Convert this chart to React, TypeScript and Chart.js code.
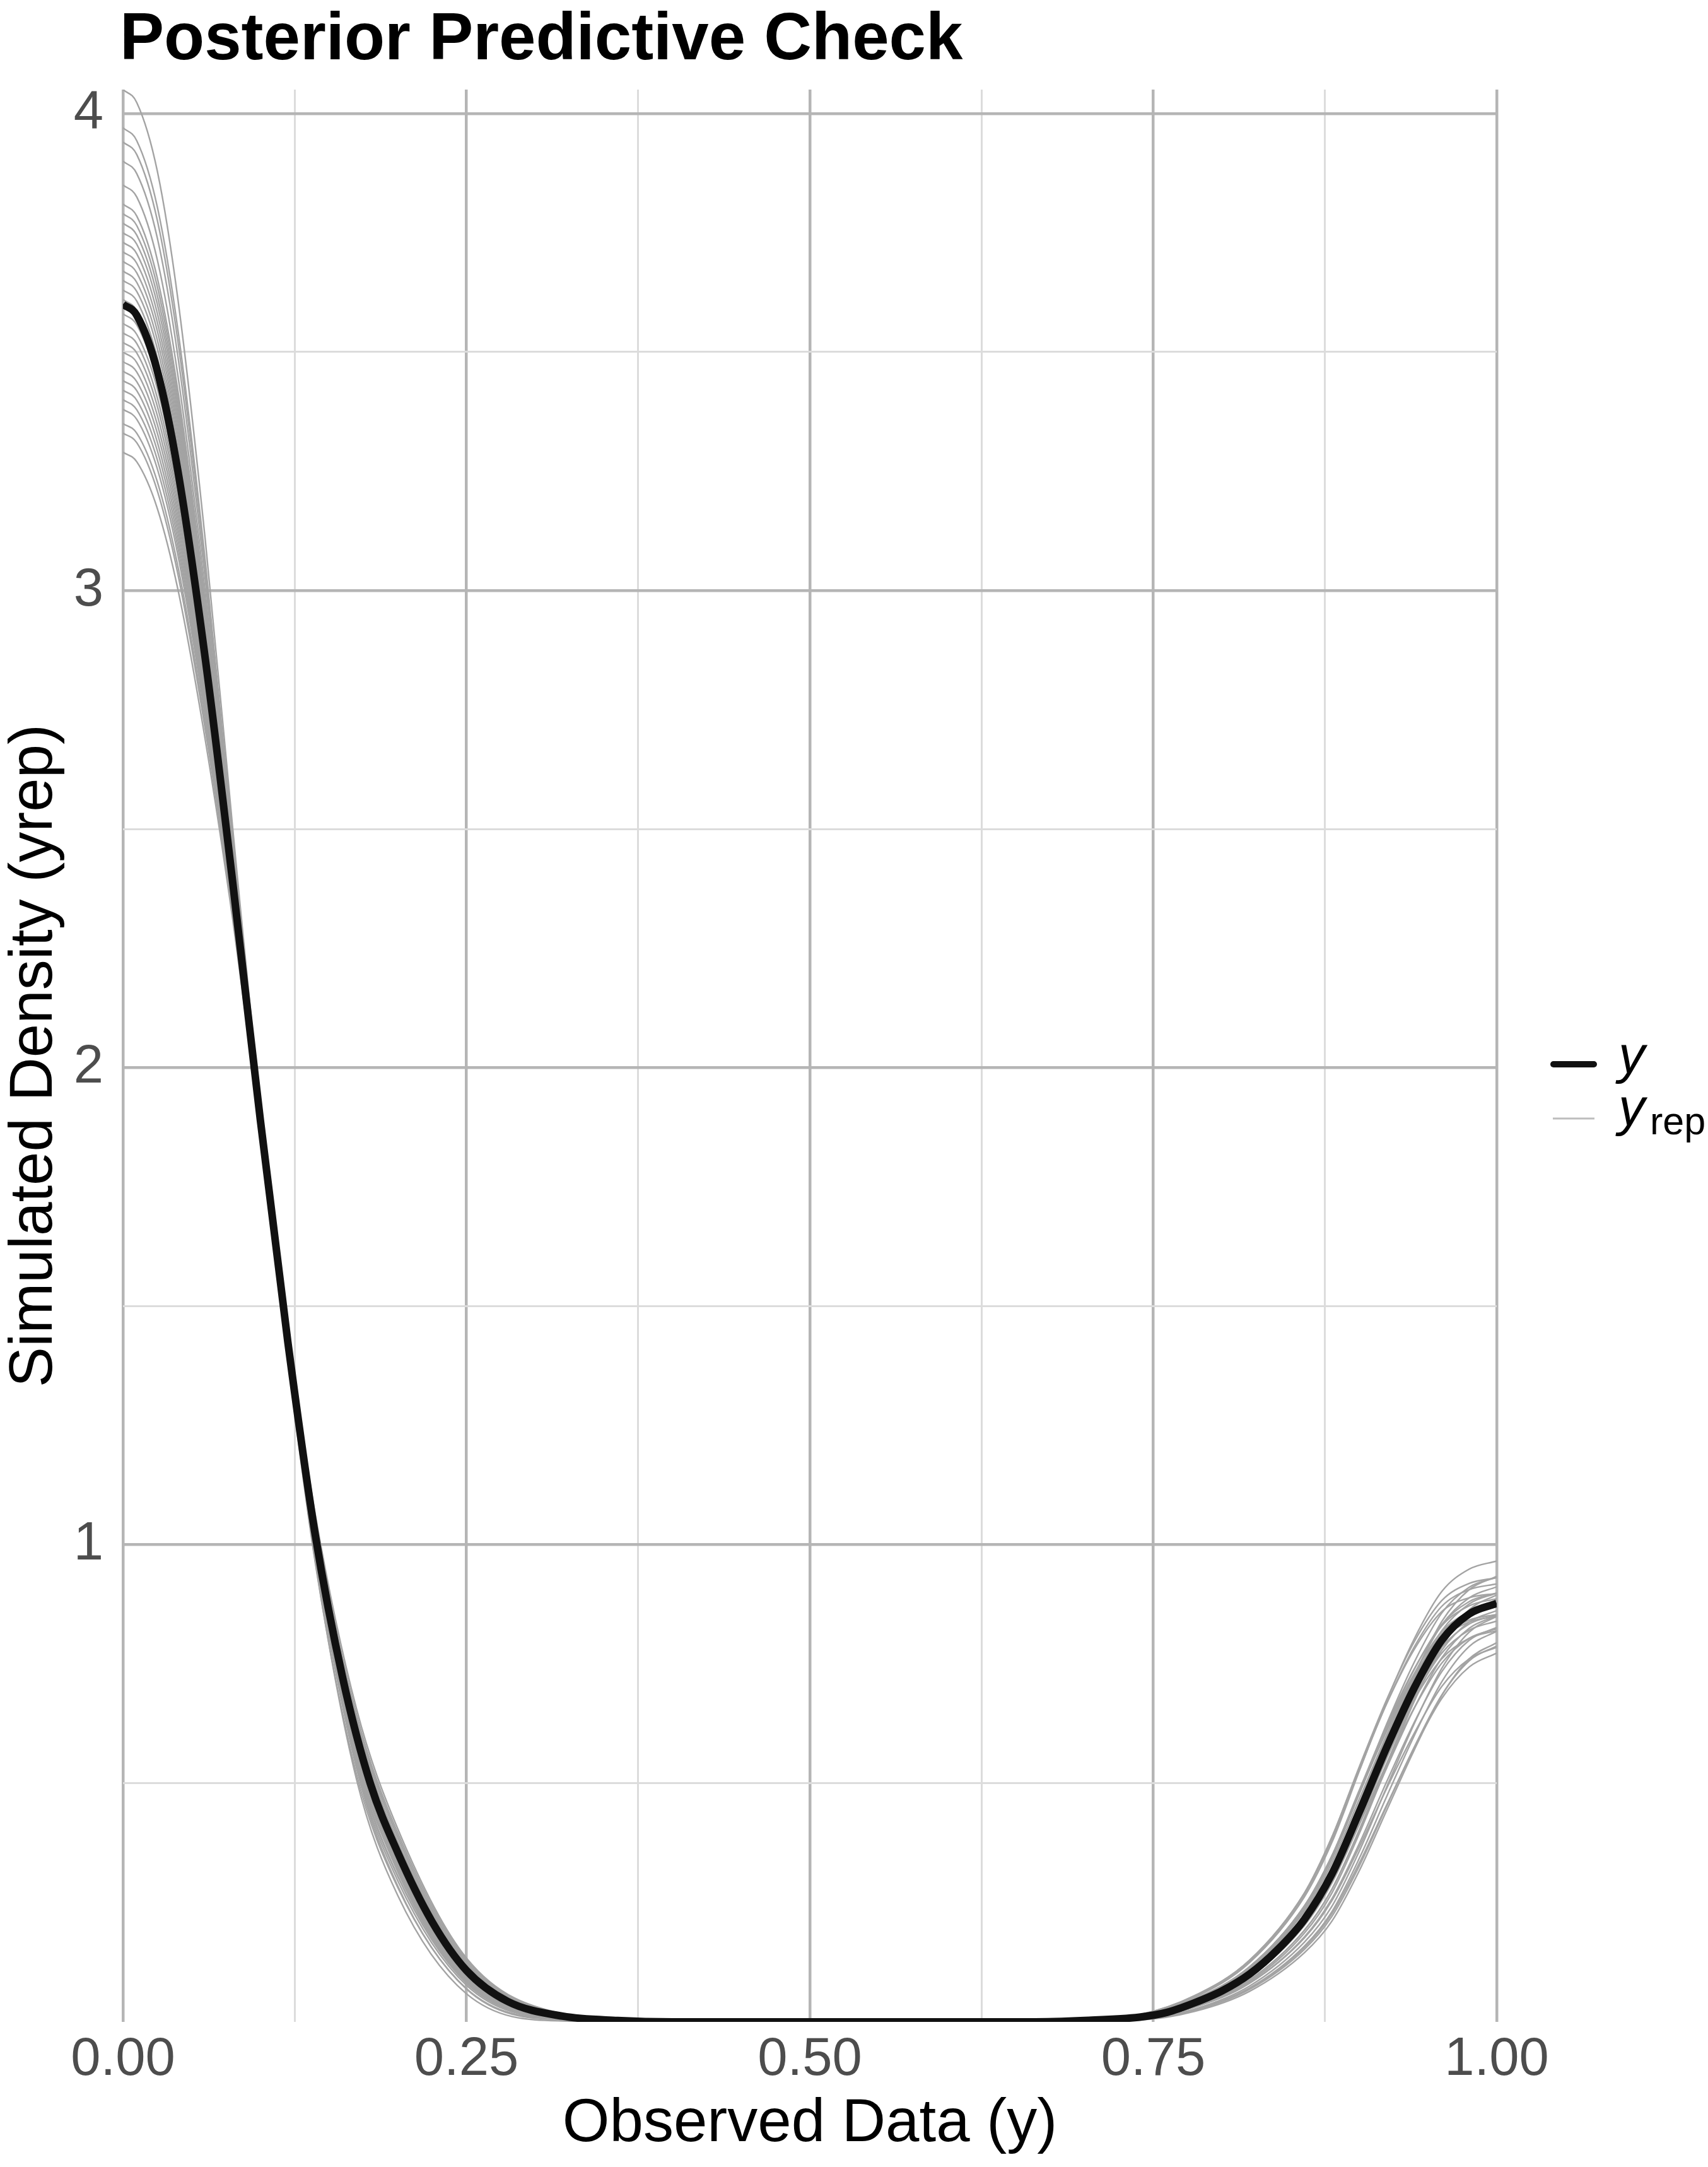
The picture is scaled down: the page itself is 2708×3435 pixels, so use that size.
import React, { useEffect, useRef } from 'react';
import { Chart, registerables } from 'chart.js';

Chart.register(...registerables);

// ---------- text ----------
const chartTitle = 'Posterior Predictive Check';
const xAxisTitle = 'Observed Data (y)';
const yAxisTitle = 'Simulated Density (yrep)';
const legendObsLabel = 'y';
const legendRepMain = 'y';
const legendRepSub = 'rep';

// ---------- ticks ----------
const xTickValues = [0, 0.25, 0.5, 0.75, 1];
const xTickLabels = ['0.00', '0.25', '0.50', '0.75', '1.00'];
const yTickValues = [1, 2, 3, 4];
const yTickLabels = ['1', '2', '3', '4'];
const xRange = [0, 1];
const yRange = [0, 4.05];

// ---------- observed density (y) ----------
const obsX = [0, 0.01, 0.025, 0.04, 0.06, 0.08, 0.10, 0.12, 0.14, 0.16, 0.18, 0.20, 0.225, 0.25, 0.28, 0.32, 0.36, 0.40,
  0.66, 0.70, 0.74, 0.76, 0.78, 0.80, 0.82, 0.84, 0.86, 0.88, 0.90, 0.92, 0.94, 0.96, 0.98, 1.00];
const obsY = [3.60, 3.577, 3.46, 3.25, 2.855, 2.385, 1.89, 1.425, 1.02, 0.72, 0.50, 0.355, 0.21, 0.108, 0.043, 0.012, 0.003, 0,
  0, 0.003, 0.01, 0.02, 0.04, 0.065, 0.10, 0.15, 0.215, 0.31, 0.44, 0.576, 0.70, 0.80, 0.855, 0.877];

// ---------- replicated densities (yrep) ----------
const yrepLeftX = [0, 0.01, 0.025, 0.04, 0.06, 0.08, 0.10, 0.12, 0.14, 0.17, 0.20, 0.25, 0.32, 0.40];
const yrepRightX = [0.66, 0.70, 0.74, 0.78, 0.82, 0.86, 0.88, 0.90, 0.92, 0.94, 0.96, 0.98, 1.00];

const yrepLeft: number[][] = [
  [4.05, 4.023, 3.879, 3.61, 3.103, 2.498, 1.911, 1.397, 0.978, 0.555, 0.319, 0.091, 0.009, 0],
  [3.97, 3.943, 3.804, 3.546, 3.059, 2.478, 1.905, 1.392, 0.962, 0.519, 0.282, 0.070, 0.005, 0],
  [3.94, 3.914, 3.776, 3.522, 3.042, 2.470, 1.908, 1.410, 1.006, 0.597, 0.359, 0.112, 0.013, 0],
  [3.90, 3.874, 3.739, 3.49, 3.02, 2.46, 1.903, 1.400, 0.978, 0.544, 0.305, 0.083, 0.007, 0],
  [3.85, 3.825, 3.693, 3.45, 2.993, 2.448, 1.902, 1.409, 0.996, 0.574, 0.334, 0.098, 0.010, 0],
  [3.81, 3.785, 3.655, 3.418, 2.971, 2.438, 1.902, 1.421, 1.022, 0.619, 0.378, 0.122, 0.015, 0],
  [3.79, 3.765, 3.637, 3.402, 2.960, 2.433, 1.897, 1.404, 0.979, 0.537, 0.296, 0.077, 0.006, 0],
  [3.77, 3.745, 3.618, 3.386, 2.949, 2.428, 1.898, 1.415, 1.007, 0.588, 0.346, 0.104, 0.011, 0],
  [3.75, 3.726, 3.600, 3.37, 2.938, 2.423, 1.896, 1.410, 0.993, 0.561, 0.319, 0.089, 0.008, 0],
  [3.73, 3.706, 3.581, 3.354, 2.927, 2.418, 1.897, 1.422, 1.021, 0.611, 0.369, 0.116, 0.014, 0],
  [3.71, 3.686, 3.562, 3.338, 2.916, 2.413, 1.891, 1.400, 0.965, 0.508, 0.265, 0.059, 0.002, 0],
  [3.69, 3.666, 3.544, 3.322, 2.905, 2.408, 1.893, 1.416, 1.003, 0.574, 0.331, 0.096, 0.010, 0],
  [3.67, 3.646, 3.525, 3.306, 2.894, 2.403, 1.894, 1.423, 1.019, 0.603, 0.359, 0.111, 0.013, 0],
  [3.65, 3.627, 3.507, 3.29, 2.883, 2.398, 1.890, 1.414, 0.996, 0.560, 0.316, 0.087, 0.008, 0],
  [3.63, 3.607, 3.488, 3.274, 2.872, 2.393, 1.893, 1.431, 1.036, 0.632, 0.387, 0.126, 0.016, 0],
  [3.61, 3.587, 3.469, 3.258, 2.861, 2.388, 1.890, 1.422, 1.013, 0.589, 0.344, 0.102, 0.011, 0],
  [3.58, 3.557, 3.441, 3.234, 2.844, 2.380, 1.886, 1.415, 0.994, 0.551, 0.306, 0.081, 0.007, 0],
  [3.56, 3.537, 3.423, 3.218, 2.833, 2.375, 1.889, 1.432, 1.034, 0.624, 0.378, 0.120, 0.014, 0],
  [3.54, 3.518, 3.404, 3.202, 2.822, 2.370, 1.886, 1.422, 1.009, 0.575, 0.329, 0.093, 0.009, 0],
  [3.52, 3.498, 3.386, 3.186, 2.811, 2.365, 1.882, 1.413, 0.986, 0.532, 0.285, 0.069, 0.004, 0],
  [3.50, 3.478, 3.367, 3.17, 2.80, 2.36, 1.885, 1.43, 1.026, 0.604, 0.357, 0.109, 0.012, 0],
  [3.48, 3.458, 3.348, 3.154, 2.789, 2.355, 1.883, 1.427, 1.018, 0.588, 0.341, 0.100, 0.010, 0],
  [3.46, 3.438, 3.330, 3.138, 2.778, 2.350, 1.885, 1.440, 1.049, 0.644, 0.396, 0.130, 0.016, 0],
  [3.44, 3.419, 3.311, 3.122, 2.767, 2.345, 1.880, 1.426, 1.012, 0.573, 0.325, 0.091, 0.008, 0],
  [3.42, 3.399, 3.293, 3.106, 2.756, 2.340, 1.881, 1.433, 1.028, 0.602, 0.353, 0.106, 0.011, 0],
  [3.40, 3.379, 3.274, 3.09, 2.745, 2.335, 1.881, 1.439, 1.041, 0.625, 0.376, 0.118, 0.014, 0],
  [3.38, 3.359, 3.255, 3.074, 2.734, 2.330, 1.877, 1.426, 1.009, 0.565, 0.315, 0.085, 0.007, 0],
  [3.35, 3.330, 3.228, 3.05, 2.718, 2.323, 1.879, 1.444, 1.05, 0.638, 0.388, 0.124, 0.015, 0],
  [3.33, 3.310, 3.209, 3.034, 2.707, 2.318, 1.876, 1.436, 1.030, 0.600, 0.349, 0.103, 0.011, 0],
  [3.29, 3.270, 3.172, 3.002, 2.685, 2.308, 1.877, 1.450, 1.063, 0.656, 0.405, 0.134, 0.017, 0],
];

const yrepRight: number[][] = [
  [0, 0.004, 0.013, 0.051, 0.124, 0.262, 0.376, 0.526, 0.674, 0.803, 0.902, 0.949, 0.966],
  [0, 0.003, 0.009, 0.038, 0.098, 0.212, 0.307, 0.442, 0.588, 0.724, 0.839, 0.906, 0.934],
  [0, 0.004, 0.015, 0.054, 0.129, 0.270, 0.387, 0.535, 0.676, 0.797, 0.883, 0.919, 0.931],
  [0, 0.003, 0.010, 0.042, 0.104, 0.224, 0.322, 0.458, 0.599, 0.728, 0.832, 0.889, 0.912],
  [0, 0.002, 0.007, 0.032, 0.084, 0.186, 0.270, 0.395, 0.536, 0.672, 0.790, 0.864, 0.895],
  [0, 0.003, 0.012, 0.046, 0.111, 0.237, 0.341, 0.478, 0.616, 0.739, 0.833, 0.881, 0.899],
  [0, 0.004, 0.015, 0.055, 0.129, 0.270, 0.387, 0.532, 0.668, 0.781, 0.860, 0.889, 0.898],
  [0, 0.003, 0.009, 0.038, 0.095, 0.206, 0.298, 0.425, 0.562, 0.688, 0.791, 0.851, 0.875],
  [0, 0.004, 0.012, 0.047, 0.113, 0.239, 0.344, 0.479, 0.613, 0.730, 0.818, 0.859, 0.874],
  [0, 0.002, 0.006, 0.027, 0.075, 0.167, 0.242, 0.358, 0.493, 0.625, 0.741, 0.817, 0.850],
  [0, 0.003, 0.011, 0.041, 0.102, 0.217, 0.313, 0.441, 0.573, 0.691, 0.785, 0.834, 0.853],
  [0, 0.004, 0.013, 0.048, 0.115, 0.242, 0.347, 0.481, 0.610, 0.721, 0.802, 0.838, 0.850],
  [0, 0.002, 0.007, 0.031, 0.081, 0.178, 0.258, 0.374, 0.504, 0.628, 0.734, 0.800, 0.827],
  [0, 0.003, 0.009, 0.038, 0.094, 0.202, 0.291, 0.414, 0.541, 0.658, 0.752, 0.804, 0.824],
  [0, 0.003, 0.011, 0.042, 0.102, 0.218, 0.313, 0.438, 0.564, 0.676, 0.761, 0.804, 0.820],
  [0, 0.002, 0.004, 0.022, 0.064, 0.145, 0.211, 0.317, 0.444, 0.570, 0.684, 0.761, 0.795],
  [0, 0.002, 0.007, 0.031, 0.081, 0.176, 0.254, 0.367, 0.490, 0.605, 0.703, 0.761, 0.785],
  [0, 0.002, 0.006, 0.026, 0.070, 0.156, 0.227, 0.333, 0.455, 0.574, 0.678, 0.744, 0.773],
  [0, 0.003, 0.011, 0.045, 0.111, 0.237, 0.341, 0.481, 0.625, 0.754, 0.857, 0.911, 0.932],
  [0, 0.004, 0.014, 0.053, 0.127, 0.267, 0.382, 0.528, 0.668, 0.786, 0.871, 0.906, 0.918],
  [0, 0.002, 0.008, 0.033, 0.087, 0.192, 0.278, 0.403, 0.542, 0.674, 0.786, 0.855, 0.884],
  [0, 0.003, 0.012, 0.045, 0.109, 0.232, 0.333, 0.467, 0.602, 0.721, 0.813, 0.859, 0.877],
  [0, 0.003, 0.009, 0.037, 0.094, 0.203, 0.293, 0.419, 0.553, 0.677, 0.779, 0.838, 0.862],
  [0, 0.004, 0.013, 0.048, 0.115, 0.243, 0.348, 0.483, 0.613, 0.725, 0.806, 0.842, 0.854],
  [0, 0.002, 0.005, 0.026, 0.071, 0.159, 0.231, 0.343, 0.473, 0.600, 0.713, 0.787, 0.819],
  [0, 0.003, 0.010, 0.041, 0.103, 0.220, 0.318, 0.451, 0.590, 0.718, 0.820, 0.876, 0.899],
  [0, 0.004, 0.012, 0.047, 0.115, 0.243, 0.348, 0.486, 0.622, 0.740, 0.830, 0.872, 0.887],
  [0, 0.003, 0.008, 0.034, 0.088, 0.192, 0.278, 0.400, 0.533, 0.658, 0.763, 0.825, 0.851],
  [0, 0.003, 0.010, 0.041, 0.100, 0.214, 0.308, 0.435, 0.564, 0.681, 0.773, 0.821, 0.840],
  [0, 0.002, 0.005, 0.024, 0.068, 0.152, 0.221, 0.327, 0.453, 0.576, 0.685, 0.757, 0.788],
];

// ---------- styles ----------
const W = 2708;
const H = 3435;
const FONT = '"Liberation Sans", Arial, Helvetica, sans-serif';
const obsColor = '#111111';
const yrepColor = '#a3a3a3';
const majorGrid = '#b5b5b5';
const minorGrid = '#dcdcdc';
const tickColor = '#4d4d4d';

const isIn = (arr: number[], v: number) => arr.some((t) => Math.abs(t - v) < 1e-9);

const decorPlugin = {
  id: 'ppcDecor',
  afterDraw(chart: any) {
    const { ctx, chartArea } = chart;
    ctx.save();
    // Title
    ctx.fillStyle = '#000';
    ctx.textAlign = 'left';
    ctx.textBaseline = 'alphabetic';
    ctx.font = `bold 105px ${FONT}`;
    ctx.fillText(chartTitle, chartArea.left - 5, 94);

    // Legend
    const lx0 = chartArea.right + 90;
    const lx1 = chartArea.right + 154;
    const row1 = 1687;
    const row2 = 1773;
    ctx.lineCap = 'round';
    ctx.strokeStyle = obsColor;
    ctx.lineWidth = 10;
    ctx.beginPath();
    ctx.moveTo(lx0, row1);
    ctx.lineTo(lx1, row1);
    ctx.stroke();
    ctx.lineCap = 'butt';
    ctx.strokeStyle = '#bdbdbd';
    ctx.lineWidth = 3;
    ctx.beginPath();
    ctx.moveTo(lx0 - 1, row2);
    ctx.lineTo(lx1 + 1, row2);
    ctx.stroke();

    ctx.fillStyle = '#000';
    ctx.font = `italic 84px ${FONT}`;
    const tx = chartArea.right + 193;
    ctx.fillText(legendObsLabel, tx, row1 + 14);
    ctx.fillText(legendRepMain, tx, row2 + 11);
    const wy = ctx.measureText(legendRepMain).width;
    ctx.font = `61px ${FONT}`;
    ctx.fillText(legendRepSub, tx + wy + 8, row2 + 25);
    ctx.restore();
  },
};

export default function App() {
  const ref = useRef<HTMLCanvasElement>(null);

  useEffect(() => {
    const canvas = ref.current;
    if (!canvas) return;

    const yrepSets = yrepLeft.map((left, i) => ({
      label: 'yrep',
      data: [
        ...yrepLeftX.map((x, j) => ({ x, y: left[j] })),
        ...yrepRightX.map((x, j) => ({ x, y: yrepRight[i][j] })),
      ],
      borderColor: yrepColor,
      borderWidth: 2.4,
      pointRadius: 0,
      cubicInterpolationMode: 'monotone' as const,
      clip: 0,
      order: 1,
    }));

    const obsSet = {
      label: 'y',
      data: obsX.map((x, j) => ({ x, y: obsY[j] })),
      borderColor: obsColor,
      borderWidth: 12,
      pointRadius: 0,
      cubicInterpolationMode: 'monotone' as const,
      clip: 0,
      order: 0,
    };

    const chart = new Chart(canvas, {
      type: 'line',
      data: { datasets: [obsSet, ...yrepSets] as any },
      options: {
        animation: false,
        responsive: false,
        devicePixelRatio: 1,
        events: [],
        layout: { padding: { left: 0, right: 335, top: 142, bottom: 0 } },
        plugins: {
          legend: { display: false },
          tooltip: { enabled: false },
          title: { display: false },
        },
        elements: { point: { radius: 0 }, line: { borderJoinStyle: 'round' } },
        scales: {
          x: {
            type: 'linear',
            min: xRange[0],
            max: xRange[1],
            border: { display: false },
            grid: {
              drawTicks: false,
              color: (c: any) => (isIn(xTickValues, c.tick?.value) ? majorGrid : minorGrid),
              lineWidth: (c: any) => (isIn(xTickValues, c.tick?.value) ? 4.5 : 3),
            },
            ticks: {
              stepSize: 0.125,
              autoSkip: false,
              maxRotation: 0,
              padding: 10,
              color: tickColor,
              font: { family: FONT, size: 85, lineHeight: 1.2 },
              callback: (v: any) => {
                const i = xTickValues.findIndex((t) => Math.abs(t - Number(v)) < 1e-9);
                return i >= 0 ? xTickLabels[i] : '';
              },
            },
            title: {
              display: true,
              text: xAxisTitle,
              color: '#000',
              font: { family: FONT, size: 96, lineHeight: 1.15 },
              padding: { top: 0, bottom: 12 },
            },
            afterFit: (s: any) => {
              s.height = H - 3205;
            },
          },
          y: {
            type: 'linear',
            min: yRange[0],
            max: yRange[1],
            border: { display: false },
            grid: {
              drawTicks: false,
              color: (c: any) => {
                const v = c.tick?.value;
                if (Math.abs(v) < 1e-9) return 'rgba(0,0,0,0)';
                return isIn(yTickValues, v) ? majorGrid : minorGrid;
              },
              lineWidth: (c: any) => (isIn(yTickValues, c.tick?.value) ? 4.5 : 3),
            },
            ticks: {
              stepSize: 0.5,
              includeBounds: false,
              autoSkip: false,
              padding: 31,
              color: tickColor,
              font: { family: FONT, size: 85, lineHeight: 1.2 },
              callback: (v: any) => {
                const i = yTickValues.findIndex((t) => Math.abs(t - Number(v)) < 1e-9);
                return i >= 0 ? yTickLabels[i] : '';
              },
            },
            title: {
              display: true,
              text: yAxisTitle,
              color: '#000',
              font: { family: FONT, size: 96, lineHeight: 1.15 },
              padding: { top: 0, bottom: 0 },
            },
            afterFit: (s: any) => {
              s.width = 195;
            },
          },
        },
      } as any,
      plugins: [decorPlugin],
    });

    return () => chart.destroy();
  }, []);

  return (
    <div style={{ position: 'absolute', left: 0, top: 0, width: W, height: H, background: '#ffffff' }}>
      <canvas ref={ref} width={W} height={H} style={{ display: 'block', width: W, height: H }} />
    </div>
  );
}
